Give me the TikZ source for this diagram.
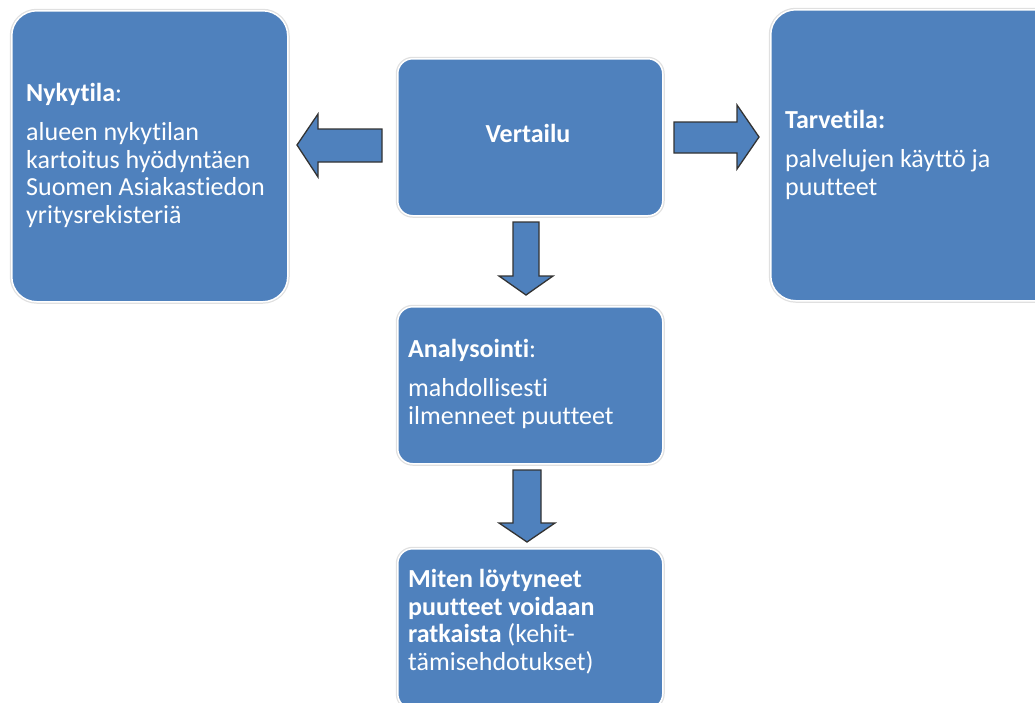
\documentclass[tikz,border=0pt]{standalone}
\usepackage{fontspec}
\setmainfont{Carlito}[Ligatures=NoCommon]
\definecolor{boxblue}{HTML}{4F81BD}
\begin{document}
\begin{tikzpicture}[x=1pt,y=-1pt,
  box/.style={fill=boxblue, draw=white, line width=1.5pt, inner sep=0pt,
    anchor=north west, preaction={draw=black!12, line width=4pt}},
  bigbox/.style={box, rounded corners=25pt, minimum width=276pt, minimum height=291pt},
  smallbox/.style={box, rounded corners=15pt, minimum width=265pt, minimum height=157pt},
  txt/.style={text=white, font=\fontsize{26}{27.5}\selectfont, align=left, inner sep=0pt, anchor=base west},
  blockarrow/.style={fill=boxblue, draw=black!80, line width=1.3pt, line join=miter}]
\useasboundingbox (0,0) rectangle (1035,702);
% boxes
\node[bigbox] (nyk) at (11,10) {};
\node[bigbox, minimum width=290pt] (tarv) at (770,9) {};
\node[smallbox] (vert) at (397,58) {};
\node[smallbox] (ana) at (397,306) {};
\node[smallbox, minimum height=160pt] (mit) at (397,548) {};
% texts (base anchor = baseline of the last line)
\node[txt] (nyktxt) at (26,223) {\textbf{Nykytila}:\\[12pt]alueen nykytilan\\kartoitus hyödyntäen\\Suomen Asiakastiedon\\yritysrekisteriä};
\node[txt] (tarvtxt) at (785,195) {\textbf{Tarvetila:}\\[12pt]palvelujen käyttö ja\\puutteet};
\node[text=white, font=\fontsize{26}{27.5}\selectfont\bfseries, inner sep=0pt, anchor=base] (verttxt) at (528,142) {Vertailu};
\node[txt] (anatxt) at (408,424) {\textbf{Analysointi}:\\[12pt]mahdollisesti\\ilmenneet puutteet};
\node[txt] (mittxt) at (408,670) {\textbf{Miten löytyneet}\\\textbf{puutteet voidaan}\\\textbf{ratkaista} (kehit-\\tämisehdotukset)};
% block arrows
\draw[blockarrow] (382,129) -- (318,129) -- (318,114) -- (297,145) -- (318,177) -- (318,162) -- (382,162) -- cycle;
\draw[blockarrow] (674,122) -- (737,122) -- (737,105) -- (759,137) -- (737,169) -- (737,153) -- (674,153) -- cycle;
\draw[blockarrow] (513,222) -- (539,222) -- (539,276) -- (553,276) -- (526,295) -- (499,276) -- (513,276) -- cycle;
\draw[blockarrow] (513,470) -- (541,470) -- (541,523) -- (555,523) -- (527,542) -- (499,523) -- (513,523) -- cycle;
\end{tikzpicture}
\end{document}
